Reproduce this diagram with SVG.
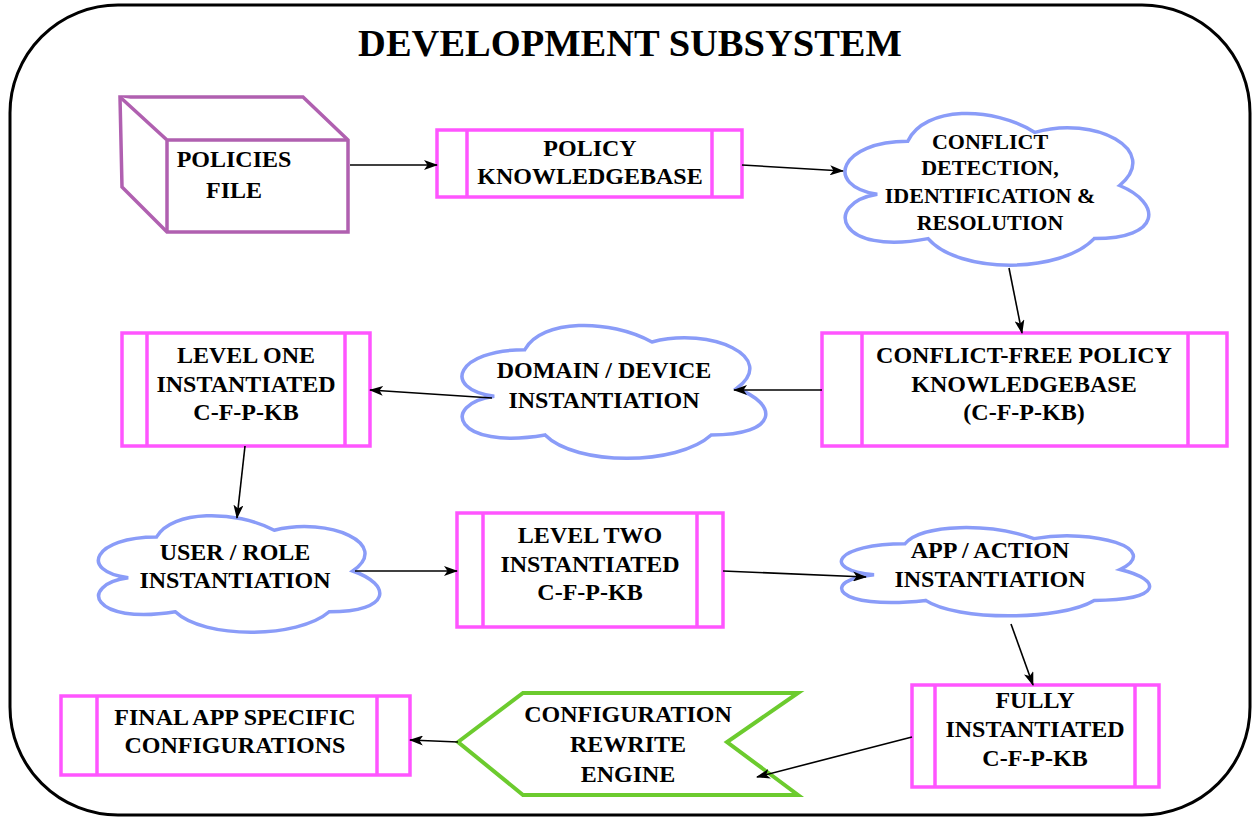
<svg xmlns="http://www.w3.org/2000/svg" width="1254" height="817" viewBox="0 0 1254 817">
  <style>
    .frame { fill: #ffffff; stroke: #000000; stroke-width: 3; }
    .title { font-family: "Liberation Serif", "Times New Roman", serif; font-weight: bold; font-size: 38.5px; fill: #000; text-anchor: middle; }
    .lbl { font-family: "Liberation Serif", "Times New Roman", serif; font-weight: bold; font-size: 24px; fill: #000; text-anchor: middle; }
    .lbl-sm { font-size: 22px; }
    .proc { fill: #ffffff; stroke: #ff55ff; stroke-width: 3.5; }
    .proc-bar { fill: none; stroke: #ff55ff; stroke-width: 3.5; }
    .cloud { fill: #ffffff; stroke: #8a9cf8; stroke-width: 3.5; }
    .cube { fill: #ffffff; stroke: #b060b0; stroke-width: 3.5; stroke-linejoin: miter; }
    .flag { fill: #ffffff; stroke: #6ccb2e; stroke-width: 4; }
    .edge { fill: none; stroke: #000000; stroke-width: 1.6; marker-end: url(#arrow); }
  </style>
  <defs>
    <marker id="arrow" viewBox="0 0 14 10" refX="13" refY="5" markerWidth="14" markerHeight="10" markerUnits="userSpaceOnUse" orient="auto">
      <path d="M0,0 L14,5 L0,10 L3.5,5 Z" fill="#000000"/>
    </marker>
  </defs>

  <!-- outer subsystem frame -->
  <rect class="frame" x="10" y="5" width="1240" height="810" rx="108" ry="108"/>
  <text class="title" x="630" y="56">DEVELOPMENT SUBSYSTEM</text>

  <!-- policies file (cube) -->
  <g id="policies-file">
    <path class="cube" d="M120,97 L303,97 L348,140 L348,232 L167,232 L122,187 Z"/>
    <path class="cube" d="M120,97 L167,140 L348,140 M167,140 L167,232"/>
    <text class="lbl" x="234" y="167">POLICIES</text>
    <text class="lbl" x="234" y="198">FILE</text>
  </g>

  <!-- policy knowledgebase -->
  <g id="policy-kb">
    <rect class="proc" x="437" y="130" width="305" height="67"/>
    <path class="proc-bar" d="M467,130 V197 M712,130 V197"/>
    <text class="lbl" x="590" y="156">POLICY</text>
    <text class="lbl" x="590" y="184">KNOWLEDGEBASE</text>
  </g>

  <!-- conflict detection cloud -->
  <g id="conflict-detection">
    <path class="cloud" d="M907.75,141.25 C839.95,141.25 823,185.5 877.24,194.35 C823,203.2 836.56,256.3 928.09,238.6 C958.6,274 1060.3,274 1094.2,238.6 C1162,238.6 1162,203.2 1119.6,185.5 C1162,150.1 1094.2,114.7 1034.9,132.4 C992.5,105.85 924.7,105.85 907.75,141.25 Z"/>
    <text class="lbl lbl-sm" x="990" y="149">CONFLICT</text>
    <text class="lbl lbl-sm" x="990" y="175">DETECTION,</text>
    <text class="lbl lbl-sm" x="990" y="203">IDENTIFICATION &amp;</text>
    <text class="lbl lbl-sm" x="990" y="230">RESOLUTION</text>
  </g>

  <!-- conflict-free policy knowledgebase -->
  <g id="cfpkb">
    <rect class="proc" x="822" y="333" width="405" height="113"/>
    <path class="proc-bar" d="M862,333 V446 M1188,333 V446"/>
    <text class="lbl" x="1024" y="363">CONFLICT-FREE POLICY</text>
    <text class="lbl" x="1024" y="392">KNOWLEDGEBASE</text>
    <text class="lbl" x="1024" y="420">(C-F-P-KB)</text>
  </g>

  <!-- domain / device instantiation cloud -->
  <g id="domain-device">
    <path class="cloud" d="M524.75,349.75 C456.95,349.75 440,388.5 494.24,396.25 C440,404 453.56,450.5 545.09,435 C575.6,466 677.3,466 711.2,435 C779,435 779,404 736.6,388.5 C779,357.5 711.2,326.5 651.9,342 C609.5,318.75 541.7,318.75 524.75,349.75 Z"/>
    <text class="lbl" x="604" y="378">DOMAIN / DEVICE</text>
    <text class="lbl" x="604" y="408">INSTANTIATION</text>
  </g>

  <!-- level one instantiated -->
  <g id="level-one">
    <rect class="proc" x="122" y="333" width="248" height="113"/>
    <path class="proc-bar" d="M147,333 V446 M345,333 V446"/>
    <text class="lbl" x="246" y="363">LEVEL ONE</text>
    <text class="lbl" x="246" y="392">INSTANTIATED</text>
    <text class="lbl" x="246" y="420">C-F-P-KB</text>
  </g>

  <!-- user / role instantiation cloud -->
  <g id="user-role">
    <path class="cloud" d="M156.5,537 C93.7,537 78,571 128.24,577.8 C78,584.6 90.56,625.4 175.34,611.8 C203.6,639 297.8,639 329.2,611.8 C392,611.8 392,584.6 352.75,571 C392,543.8 329.2,516.6 274.25,530.2 C235,509.8 172.2,509.8 156.5,537 Z"/>
    <text class="lbl" x="235" y="560">USER / ROLE</text>
    <text class="lbl" x="235" y="588">INSTANTIATION</text>
  </g>

  <!-- level two instantiated -->
  <g id="level-two">
    <rect class="proc" x="457" y="513" width="266" height="114"/>
    <path class="proc-bar" d="M483,513 V627 M697,513 V627"/>
    <text class="lbl" x="590" y="543">LEVEL TWO</text>
    <text class="lbl" x="590" y="572">INSTANTIATED</text>
    <text class="lbl" x="590" y="600">C-F-P-KB</text>
  </g>

  <!-- app / action instantiation cloud -->
  <g id="app-action">
    <path class="cloud" d="M905,543.75 C836.2,543.75 819,569.5 874.04,574.65 C819,579.8 832.76,610.7 925.64,600.4 C956.6,621 1059.8,621 1094.2,600.4 C1163,600.4 1163,579.8 1120,569.5 C1163,548.9 1094.2,528.3 1034,538.6 C991,523.15 922.2,523.15 905,543.75 Z"/>
    <text class="lbl" x="990" y="558">APP / ACTION</text>
    <text class="lbl" x="990" y="587">INSTANTIATION</text>
  </g>

  <!-- fully instantiated -->
  <g id="fully-instantiated">
    <rect class="proc" x="912" y="685" width="247" height="102"/>
    <path class="proc-bar" d="M935,685 V787 M1135,685 V787"/>
    <text class="lbl" x="1035" y="708">FULLY</text>
    <text class="lbl" x="1035" y="737">INSTANTIATED</text>
    <text class="lbl" x="1035" y="766">C-F-P-KB</text>
  </g>

  <!-- configuration rewrite engine -->
  <g id="rewrite-engine">
    <path class="flag" d="M458,742 L523,693 L798,693 L727,742 L798,795 L523,795 Z"/>
    <text class="lbl" x="628" y="722">CONFIGURATION</text>
    <text class="lbl" x="628" y="752">REWRITE</text>
    <text class="lbl" x="628" y="782">ENGINE</text>
  </g>

  <!-- final app specific configurations -->
  <g id="final-config">
    <rect class="proc" x="61" y="696" width="349" height="79"/>
    <path class="proc-bar" d="M97,696 V775 M377,696 V775"/>
    <text class="lbl" x="235" y="725">FINAL APP SPECIFIC</text>
    <text class="lbl" x="235" y="753">CONFIGURATIONS</text>
  </g>

  <!-- connectors, drawn last so arrowheads sit on top of shapes -->
  <g id="connectors">
    <path class="edge" d="M350,165 L437,165"/>
    <path class="edge" d="M742,165 L843,171"/>
    <path class="edge" d="M1009,268 L1022,333"/>
    <path class="edge" d="M822,390 L734,390"/>
    <path class="edge" d="M492,398 L370,390"/>
    <path class="edge" d="M245,446 L237,518"/>
    <path class="edge" d="M355,571 L457,571"/>
    <path class="edge" d="M723,571 L866,577"/>
    <path class="edge" d="M1011,624 L1033,685"/>
    <path class="edge" d="M912,737 L757,777"/>
    <path class="edge" d="M458,742 L410,740"/>
  </g>
</svg>
